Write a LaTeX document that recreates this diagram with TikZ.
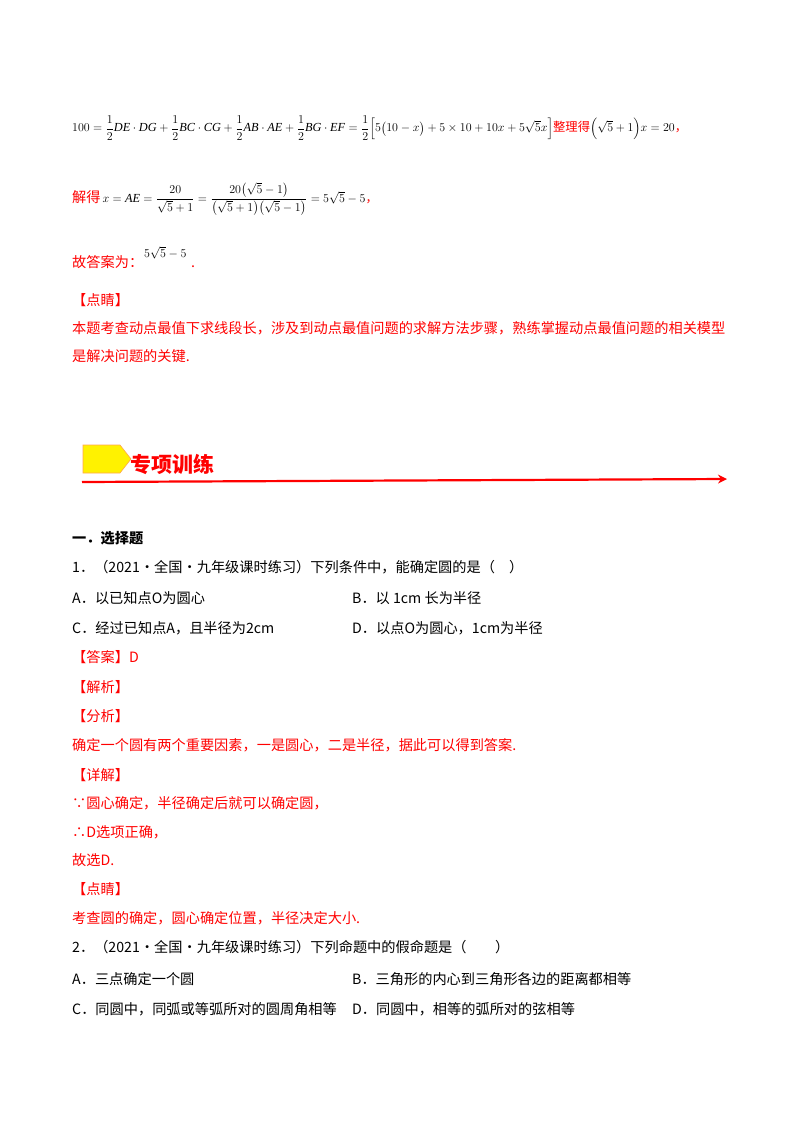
\documentclass[tikz,border=0pt]{standalone}
\usepackage{amsmath}
\usepackage{fontspec}
\usetikzlibrary{arrows.meta}
\setmainfont{Liberation Serif}
\newfontfamily\cjk{Noto Sans CJK SC}
\definecolor{rd}{RGB}{255,0,0}
\begin{document}
\begin{tikzpicture}[x=1pt,y=-1pt,
 t/.style={anchor=base west,inner sep=0pt,font=\fontsize{14.2}{16}\selectfont\cjk},
 r/.style={t,text=rd},
 m/.style={anchor=west,inner sep=0pt,font=\fontsize{12.3}{15}\selectfont}]
\useasboundingbox[fill=white] (0,0) rectangle (800,1132);
\node[m] (f1) at (72,128) {$100=\dfrac12 \mathit{DE}\cdot \mathit{DG}+\dfrac12 \mathit{BC}\cdot \mathit{CG}+\dfrac12 \mathit{AB}\cdot \mathit{AE}+\dfrac12 \mathit{BG}\cdot \mathit{EF}=\dfrac12\Big[5\big(10-x\big)+5\times10+10x+5\sqrt5x\Big]$\textcolor{rd}{\cjk 整理得}$\Big(\sqrt5+1\Big)x=20$\textcolor{rd}{\cjk ，}};
\node[m] (f2) at (72,199) {\textcolor{rd}{\fontsize{14.2}{16}\selectfont\cjk 解得}\,$x=\mathit{AE}=\dfrac{20}{\sqrt5+1}=\dfrac{20\big(\sqrt5-1\big)}{\big(\sqrt5+1\big)\big(\sqrt5-1\big)}=5\sqrt5-5$\textcolor{rd}{\cjk ，}};
\node[r] (g) at (72,267) {故答案为：};
\node[m] (g2) at (144,253) {$5\sqrt5-5$};
\node[r] (g3) at (191,267) {.};
\node[r] (d1) at (72,305) {【点睛】};
\node[r] (d2) at (72,333) {本题考查动点最值下求线段长，涉及到动点最值问题的求解方法步骤，熟练掌握动点最值问题的相关模型};
\node[r] (d3) at (72,361) {是解决问题的关键.};
% banner
\draw[rd,line width=2.2pt,-{Stealth[length=9pt,width=9pt]}] (82,482) -- (727,479);
\filldraw[fill=yellow,draw=orange!70,line width=0.6pt] (83,445) -- (120,445) -- (131,459) -- (120,473) -- (83,473) -- cycle;
\node[anchor=base west,inner sep=0pt,text=rd,font=\fontsize{21}{24}\selectfont\cjk\bfseries] (h) at (130,472) {专项训练};
\node[t,font=\fontsize{14.2}{16}\selectfont\cjk\bfseries] (s) at (72,543) {一．选择题};
\node[t] (q1) at (72,572) {1．（2021·全国·九年级课时练习）下列条件中，能确定圆的是（\quad）};
\node[t] (a) at (72,603) {A．以已知点O为圆心};
\node[t] (b) at (352,603) {B．以 1cm 长为半径};
\node[t] (c) at (72,633) {C．经过已知点A，且半径为2cm};
\node[t] (dd) at (352,633) {D．以点O为圆心，1cm为半径};
\node[r] (e1) at (72,662) {【答案】D};
\node[r] (e2) at (72,692) {【解析】};
\node[r] (e3) at (72,721) {【分析】};
\node[r] (e4) at (72,750) {确定一个圆有两个重要因素，一是圆心，二是半径，据此可以得到答案.};
\node[r] (e5) at (72,780) {【详解】};
\node[r] (e6) at (72,808) {∵圆心确定，半径确定后就可以确定圆，};
\node[r] (e7) at (72,837) {∴D选项正确，};
\node[r] (e8) at (72,865) {故选D.};
\node[r] (e9) at (72,894) {【点睛】};
\node[r] (e10) at (72,923) {考查圆的确定，圆心确定位置，半径决定大小.};
\node[t] (q2) at (72,952) {2．（2021·全国·九年级课时练习）下列命题中的假命题是（\qquad）};
\node[t] (a2) at (72,984) {A．三点确定一个圆};
\node[t] (b2) at (352,984) {B．三角形的内心到三角形各边的距离都相等};
\node[t] (c2) at (72,1014) {C．同圆中，同弧或等弧所对的圆周角相等};
\node[t] (d2b) at (352,1014) {D．同圆中，相等的弧所对的弦相等};
\end{tikzpicture}
\end{document}
